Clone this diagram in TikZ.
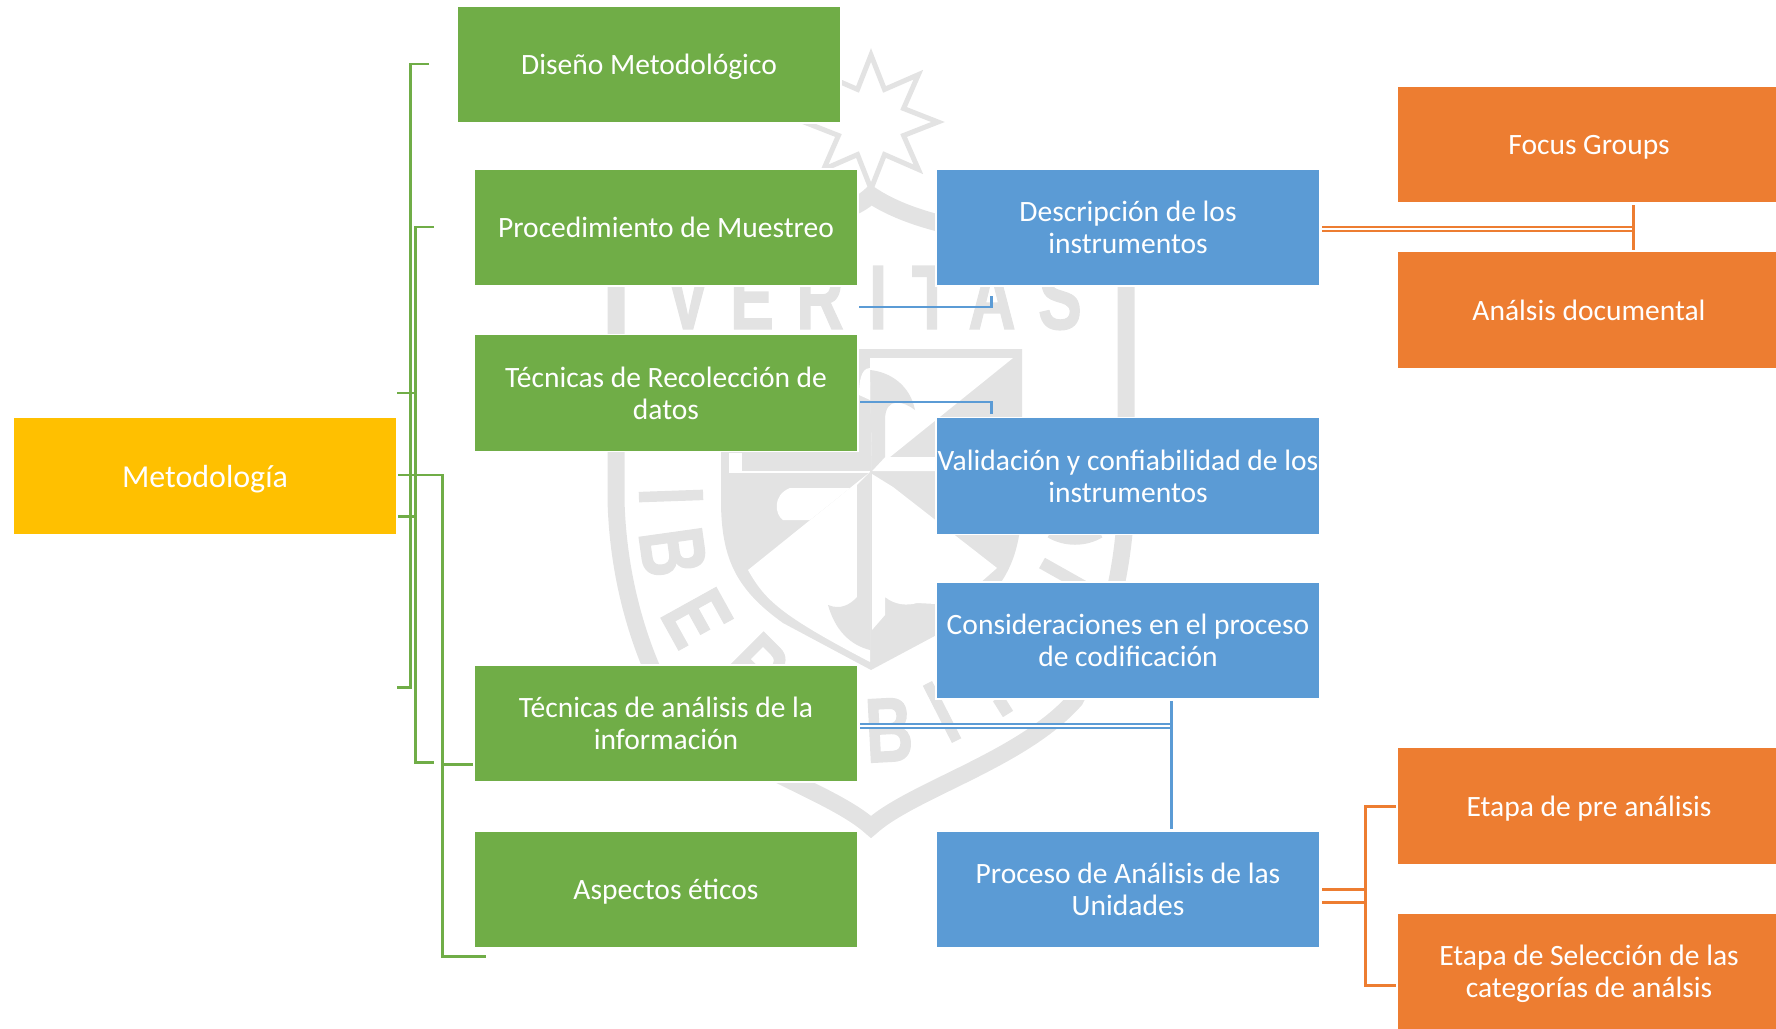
\documentclass[tikz,border=0pt]{standalone}
\usepackage{fontspec}
\usetikzlibrary{shapes.geometric}
\setmainfont{Carlito}
\newfontfamily\sealfont[BoldFeatures={FakeBold=1.5}]{Liberation Sans}
\definecolor{metoyellow}{HTML}{FFC000}
\definecolor{boxgreen}{HTML}{70AD47}
\definecolor{boxblue}{HTML}{5B9BD5}
\definecolor{boxorange}{HTML}{ED7D31}
\definecolor{sealgray}{HTML}{E3E3E3}
\tikzset{
    box/.style={draw=white, line width=0.3pt, text=white, inner sep=0pt, align=center,
        minimum width=3.84cm, minimum height=1.17cm, text depth=0pt,
        font=\fontsize{8.4}{9.1}\selectfont},
    metobox/.style={box, fill=metoyellow, font=\fontsize{9.1}{9.1}\selectfont},
    greenbox/.style={box, fill=boxgreen},
    bluebox/.style={box, fill=boxblue},
    orangebox/.style={box, fill=boxorange},
    greenline/.style={draw=boxgreen, line width=0.85pt},
    blueline/.style={draw=boxblue, line width=0.85pt},
    orangeline/.style={draw=boxorange, line width=0.85pt},
    sealletter/.style={transform shape, xscale=0.72, inner sep=0pt, text=sealgray,
        font=\sealfont\bfseries\fontsize{26}{26}\selectfont},
    sealband/.style={draw=sealgray, line width=0.17cm, miter limit=8},
}
\begin{document}
\begin{tikzpicture}[auto]
        \useasboundingbox (0, 0) rectangle (17.76, -10.28);

        \draw[sealband] (6.16, -2.40) -- (6.16, -5.00) .. controls (6.18, -5.80) and (6.40, -6.50) .. (6.67, -7.00)
            .. controls (7.20, -7.60) and (8.30, -7.90) .. (8.71, -8.27)
            .. controls (9.12, -7.90) and (10.22, -7.60) .. (10.75, -7.00)
            .. controls (11.02, -6.50) and (11.24, -5.80) .. (11.26, -5.00) -- (11.26, -2.40);
        \draw[sealband] (6.16, -2.40) .. controls (7.50, -2.30) and (8.40, -2.25) .. (8.71, -1.95)
            .. controls (8.90, -2.08) and (9.20, -2.20) .. (9.60, -2.28) .. controls (10.30, -2.35) and (11.00, -2.35) .. (11.26, -2.40);
        \node[star, star points=8, star point ratio=1.9, minimum size=1.34cm, inner sep=0pt,
            draw=sealgray, line width=0.05cm, fill=white] at (8.71, -1.22)(sealstar){};

        \foreach \ch/\xx in {V/6.88, E/7.52, R/8.20, I/8.78, T/9.32, A/9.92, S/10.60}
            \node[sealletter, anchor=base] at (\xx, -3.29)(seal\ch){\ch};
        \node[rotate=-88, sealletter] at (6.71, -4.96)(sealLowI){I};
        \node[rotate=-82, sealletter] at (6.73, -5.52)(sealLowB){B};
        \node[rotate=-61, sealletter] at (6.97, -6.18)(sealLowE){E};
        \node[rotate=-45, sealletter] at (7.55, -6.68)(sealLowR){R};
        \node[rotate=3, sealletter] at (8.89, -7.30)(sealBotB){B};
        \node[rotate=27, sealletter] at (9.42, -7.12)(sealBotI){I};
        \draw[draw=sealgray, line width=0.12cm] (10.42, -5.63) -- (10.90, -5.90);
        \draw[draw=sealgray, line width=0.10cm] (10.50, -5.33) .. controls (10.65, -5.42) and (10.85, -5.42) .. (11.00, -5.33);
        \draw[draw=sealgray, line width=0.12cm] (9.98, -6.98) -- (10.08, -7.14);

        \fill[sealgray] (7.21, -3.49) -- (10.22, -3.49) -- (10.22, -5.05)
            .. controls (10.20, -5.60) and (10.05, -5.90) .. (9.59, -6.23) -- (8.71, -6.70) -- (7.83, -6.23)
            .. controls (7.37, -5.90) and (7.22, -5.60) .. (7.21, -5.05) -- cycle;
        \fill[white] (8.70, -3.58) -- (10.13, -3.58) -- (8.90, -4.57) -- (9.40, -4.57) -- (9.40, -4.71) -- (8.72, -4.71) -- cycle;
        \fill[sealgray] (8.70, -3.70) .. controls (8.90, -3.72) and (9.10, -3.85) .. (9.15, -4.10)
            .. controls (9.05, -4.02) and (8.85, -3.95) .. (8.85, -4.20) -- (8.85, -4.57) -- (8.72, -4.71) -- cycle;
        \fill[white] (8.70, -3.68) .. controls (8.60, -3.68) and (8.59, -3.85) .. (8.59, -3.95) -- (8.70, -4.00) -- cycle;
        \fill[white] (7.29, -4.53) rectangle (7.42, -4.72);
        \fill[white] (7.29, -4.71) rectangle (8.70, -4.73);
        \fill[white] (8.50, -4.88) -- (7.90, -4.88) .. controls (7.72, -4.95) and (7.75, -5.15) .. (7.83, -5.20) -- (8.10, -5.20) -- cycle;
        \fill[white] (8.50, -4.88) -- (7.48, -5.70) .. controls (7.65, -6.00) and (7.80, -6.15) .. (8.70, -6.62) -- (8.70, -4.72) -- cycle;
        \fill[sealgray] (8.57, -4.85) -- (8.70, -4.72) -- (8.70, -6.50) .. controls (8.50, -6.45) and (8.35, -6.30) .. (8.28, -6.05)
            .. controls (8.40, -6.10) and (8.50, -6.05) .. (8.57, -5.97) -- cycle;
        \fill[white] (8.72, -4.74) -- (8.93, -4.87) -- (9.97, -5.68) -- (9.55, -6.05) -- (9.17, -6.03)
            .. controls (9.07, -6.06) and (8.95, -6.05) .. (8.85, -5.97) -- (8.85, -6.15) -- (8.72, -6.30) -- cycle;

        \node[metobox] at (2.05, -4.76)(meto){Metodología};
        \node[greenbox] at (6.49, -0.645)(diseno){Diseño Metodológico};
        \node[greenbox] at (6.66, -2.275)(proc){Procedimiento de Muestreo};
        \node[greenbox] at (6.66, -3.93)(tecrec){Técnicas de Recolección de\\datos};
        \node[greenbox] at (6.66, -7.235)(tecana){Técnicas de análisis de la\\información};
        \node[greenbox] at (6.66, -8.895)(etico){Aspectos éticos};
        \node[bluebox] at (11.28, -2.275)(desc){Descripción de los\\instrumentos};
        \node[bluebox] at (11.28, -4.76)(valid){Validación y confiabilidad de los\\instrumentos};
        \node[bluebox] at (11.28, -6.405)(consid){Consideraciones en el proceso\\de codificación};
        \node[bluebox] at (11.28, -8.895)(procan){Proceso de Análisis de las\\Unidades};
        \node[orangebox] at (15.89, -1.445)(focus){Focus Groups};
        \node[orangebox] at (15.89, -3.10)(docu){Análsis documental};
        \node[orangebox] at (15.89, -8.06)(preana){Etapa de pre análisis};
        \node[orangebox] at (15.89, -9.715)(selec){Etapa de Selección de las\\categorías de análsis};

        \coordinate (gA) at (4.29, -0.64);
        \coordinate (gB) at (4.10, -6.87);
        \coordinate (gC) at (3.97, -6.87);
        \coordinate (gD) at (4.34, -2.27);
        \coordinate (gE) at (4.15, -7.62);
        \coordinate (gF) at (4.34, -7.62);
        \coordinate (gG) at (3.97, -3.93);
        \coordinate (gH) at (4.15, -3.93);
        \coordinate (gI) at (3.98, -5.16);
        \coordinate (gJ) at (4.15, -5.16);
        \coordinate (gK) at (3.98, -4.75);
        \coordinate (gL) at (4.42, -9.56);
        \coordinate (gM) at (4.86, -9.56);
        \coordinate (gN) at (4.42, -7.64);
        \coordinate (gO) at (4.73, -7.64);
        \draw[greenline] (gA) -| (gB) -- (gC);
        \draw[greenline] (gD) -| (gE) -- (gF);
        \draw[greenline] (gK) -| (gL) -- (gM);
        \path[greenline]
        (gG)edge(gH)
        (gI)edge(gJ)
        (gN)edge(gO)
        ;

        \coordinate (bA) at (8.59, -3.07);
        \coordinate (bB) at (9.91, -2.96);
        \coordinate (bC) at (8.60, -4.02);
        \coordinate (bD) at (9.91, -4.14);
        \coordinate (bE) at (8.60, -7.26);
        \coordinate (bF) at (11.71, -7.26);
        \coordinate (bG) at (11.71, -7.01);
        \coordinate (bH) at (11.71, -8.29);
        \draw[blueline] (bA) -| (bB);
        \draw[blueline] (bC) -| (bD);
        \draw[blueline, line width=0.55pt, double distance=0.02cm] (bE) -- (bF);
        \draw[blueline] (bG) -- (bH);

        \coordinate (oA) at (13.22, -2.29);
        \coordinate (oB) at (16.33, -2.29);
        \coordinate (oC) at (16.33, -2.05);
        \coordinate (oD) at (16.33, -2.50);
        \coordinate (oE) at (13.22, -8.89);
        \coordinate (oF) at (13.65, -8.89);
        \coordinate (oG) at (13.22, -9.02);
        \coordinate (oH) at (13.65, -9.02);
        \coordinate (oI) at (13.96, -8.06);
        \coordinate (oJ) at (13.65, -9.85);
        \coordinate (oK) at (13.96, -9.85);
        \draw[orangeline, line width=0.55pt, double distance=0.03cm] (oA) -- (oB);
        \draw[orangeline] (oI) -| (oJ) -- (oK);
        \path[orangeline]
        (oC)edge(oD)
        (oE)edge(oF)
        (oG)edge(oH)
        ;
    \end{tikzpicture}
\end{document}
